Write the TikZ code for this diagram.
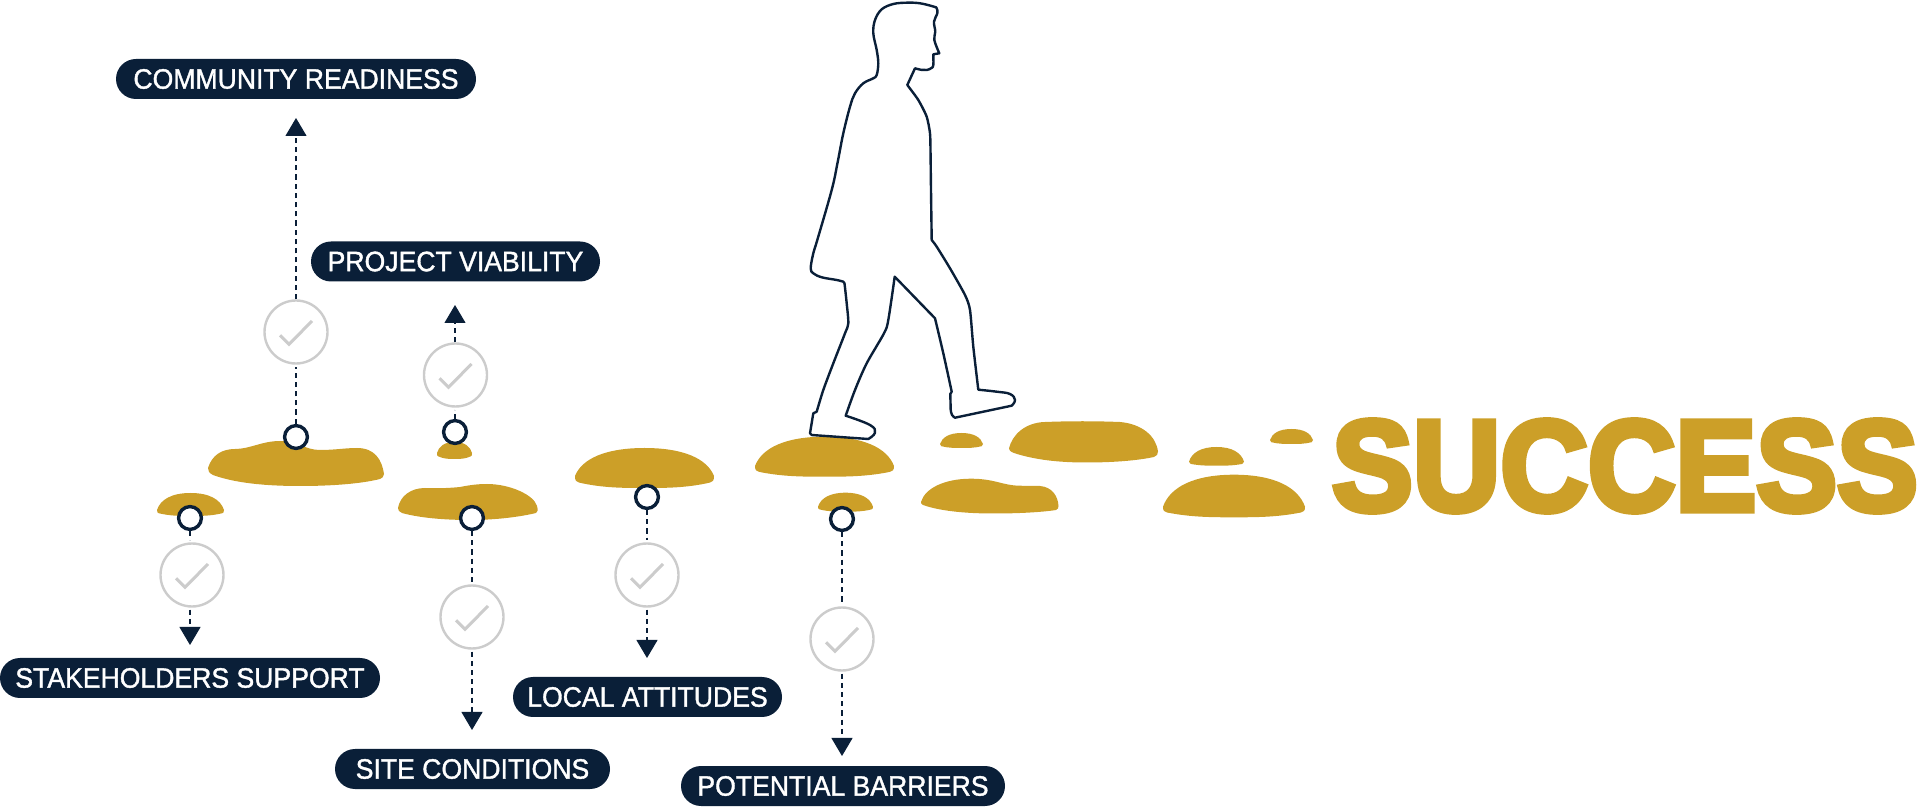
\documentclass[tikz,border=0pt]{standalone}
\usepackage{fontspec}
\usetikzlibrary{arrows.meta}
\setmainfont{Liberation Sans}[FakeStretch=0.95,FakeBold=1.3]
\newfontfamily\heavyf{Liberation Sans Bold}[FakeBold=5]
\definecolor{navy}{HTML}{0A1F38}
\definecolor{gold}{HTML}{CC9F28}
\definecolor{softgrey}{HTML}{CCCCCC}
\tikzset{
  pill/.style={fill=navy,text=white,rounded corners=10pt,inner sep=0pt,minimum height=20pt,font=\fontsize{14}{16}\selectfont},
  checkring/.style={circle,draw=softgrey,line width=1.2pt,fill=white,minimum size=31.5pt,inner sep=0pt},
  pin/.style={circle,draw=navy,line width=1.7pt,fill=white,minimum size=11.4pt,inner sep=0pt},
  tick/.style={draw=softgrey,line width=1.5pt,miter limit=4},
  link/.style={draw=navy,line width=0.55pt,dash pattern=on 2.6pt off 2pt},
  linkarrow/.style={link,-{Triangle[width=10.5pt,length=9pt]}},
  person/.style={draw=navy,line width=1.2pt,fill=white,line join=round},
}
\newcommand\stone[5]{%
  \pgfmathsetmacro\stW{#2-#1}\pgfmathsetmacro\stH{#4-#3}\pgfmathsetmacro\stD{#5-#4}\pgfmathsetmacro\stM{(#1+#2)/2}%
  \fill[gold] (#1,#4)
   .. controls ({#1+.05*\stW},{#4-.62*\stH}) and ({#1+.22*\stW},#3) .. (\stM,#3)
   .. controls ({#2-.22*\stW},#3) and ({#2-.05*\stW},{#4-.62*\stH}) .. (#2,#4)
   .. controls (#2,{#4+.4*\stD}) and ({#2-.01*\stW},{#4+.5*\stD}) .. ({#2-.03*\stW},{#4+.55*\stD})
   .. controls ({#2-.2*\stW},#5) and ({\stM+.15*\stW},#5) .. (\stM,#5)
   .. controls ({\stM-.15*\stW},#5) and ({#1+.2*\stW},#5) .. ({#1+.03*\stW},{#4+.55*\stD})
   .. controls ({#1+.01*\stW},{#4+.5*\stD}) and (#1,{#4+.4*\stD}) .. (#1,#4) -- cycle;}
\newcommand\tickin[1]{\draw[tick] ([shift={(-16,3.3)}]#1.center) -- ++(9,9) -- ++(23,-23.3);}
\begin{document}
\begin{tikzpicture}[x=0.5pt,y=-0.5pt]
\path[use as bounding box] (0,0) rectangle (1919,807);
% stones
\fill[gold] (208,468) .. controls (212,455) and (222,449) .. (235,449) .. controls (250,449) and (262,441) .. (280,441) .. controls (298,441) and (305,450) .. (320,450) .. controls (335,450) and (345,448) .. (357,448) .. controls (375,448) and (382,460) .. (384,474) .. controls (384,477) and (382,478) .. (380,479) .. controls (360,484) and (330,486) .. (300,486) .. controls (265,486) and (235,483) .. (213,475) .. controls (209,473) and (208,471) .. (208,468) -- cycle;
\stone{157}{224}{493}{510}{516}
\stone{437}{472}{442}{453}{459}
\fill[gold] (398,508) .. controls (400,496) and (411,488) .. (425,488) .. controls (440,488.5) and (450,488) .. (460,487) .. controls (470,485) and (478,484) .. (487,484) .. controls (510,484) and (534,495) .. (537,506) .. controls (538,510) and (538,512) .. (536,513) .. controls (515,518) and (490,520) .. (470,520) .. controls (445,520) and (420,518) .. (402,513) .. controls (399,512) and (398,510) .. (398,508) -- cycle;
\stone{575}{714}{448}{476}{488}
\stone{755}{894}{436.7}{466}{476.7}
\stone{818}{873}{492.7}{506.7}{511.7}
\fill[gold] (921,502) .. controls (925,488) and (945,478.7) .. (971,478.7) .. controls (995,478.7) and (1003,485.7) .. (1020,485.7) .. controls (1028,486) and (1033,485.7) .. (1040,486) .. controls (1052,487) and (1058,496) .. (1058.5,506) .. controls (1058.5,508) and (1058,509) .. (1056,510) .. controls (1040,512.5) and (1015,513.5) .. (994,513.5) .. controls (965,513.5) and (940,511) .. (923,505) .. controls (921,504) and (921,503) .. (921,502) -- cycle;
\stone{940}{983}{433}{444}{448}
\fill[gold] (1009,448.5) .. controls (1012,435) and (1025,422.5) .. (1045,422) .. controls (1070,421) and (1095,421) .. (1120,422) .. controls (1142,424) and (1156,436) .. (1158,451.5) .. controls (1158,454) and (1157,456) .. (1154,457) .. controls (1135,461) and (1110,462.5) .. (1086,462.5) .. controls (1060,462.5) and (1035,460) .. (1014,453) .. controls (1010,451.5) and (1009,450) .. (1009,448.5) -- cycle;
\stone{1189}{1244}{447}{461.7}{465.7}
\stone{1163}{1305}{474.7}{506.7}{517.3}
\stone{1270}{1313}{429}{440}{444}
% person
\draw[person]
 plot[smooth,tension=.6] coordinates {(907.3,85) (915,68.3)}
 -- plot[smooth,tension=.7] coordinates {(915,68.3) (921,69.8) (926.7,70) (931.5,68) (933.3,65) (933.3,54.3)}
 -- (939.3,53.3)
 -- plot[smooth,tension=.6] coordinates {(939.3,53.3) (934.3,40) (935.3,31.7) (934,21.7) (937.3,13.3) (936.7,8.3) (934,6.7) (920,3.3) (906.7,2.7) (893.3,4) (881.7,9.3) (875,20) (873.3,33.3) (876.7,50) (878.3,63.3) (876.7,75) (873.3,78.3) (863.3,83.3) (855,93.3) (850,106.7) (843.3,133.3) (837.5,163) (831.7,190) (817.3,240) (813.3,253.3) (810.7,268.3) (813.3,273.3) (821.7,277.3) (836.7,280) (843.3,281.7)}
 -- plot[smooth,tension=.5] coordinates {(844.5,283.3) (846.7,303.3) (848.3,323.3) (845,333.3) (833.3,363.3) (823.3,390) (816.7,411.7)}
 -- (813.3,413.3) -- (810,433.3) -- (811.7,435) -- (868.3,439)
 -- plot[smooth,tension=.7] coordinates {(868.3,439) (875,432.7) (870,425) (845.7,415.7)}
 -- plot[smooth,tension=.5] coordinates {(845.7,415.7) (855,390) (866.7,363.3) (884,333.3) (888.3,320) (894.7,276.7)}
 -- (935,318.3)
 -- plot[smooth,tension=.5] coordinates {(935,318.3) (943.3,353.3) (951.7,391.7)}
 -- (950.3,394) -- (950.7,410)
 -- plot[smooth,tension=.7] coordinates {(950.7,410) (952,415) (955,417.7)}
 -- (1011.7,405.7)
 -- plot[smooth,tension=.7] coordinates {(1011.7,405.7) (1015,400) (1010,394) (996.7,391.7) (978.3,389.7)}
 -- plot[smooth,tension=.4] coordinates {(978.3,389.7) (973.3,346.7) (970,310) (965,295) (950,268.3) (936.7,246.7) (931.7,240)}
 -- plot[smooth,tension=.4] coordinates {(931.7,240) (931,190) (930.5,150) (930,133.3) (926.7,116.7) (918.3,100) (907.3,85)} -- cycle;
% success
\node[text=gold,inner sep=0pt] (success) at (1625,466) {\resizebox{293pt}{45pt}{\heavyf SUCCESS}};
% labels
\node[pill,minimum width=180pt] (lcomm) at (296,79) {COMMUNITY READINESS};
\node[pill,minimum width=144.5pt] (lproj) at (455.5,261.5) {PROJECT VIABILITY};
\node[pill,minimum width=190pt] (lstake) at (190,678) {STAKEHOLDERS SUPPORT};
\node[pill,minimum width=137.5pt] (lsite) at (472.5,769) {SITE CONDITIONS};
\node[pill,minimum width=134.5pt] (llocal) at (647.5,697) {LOCAL ATTITUDES};
\node[pill,minimum width=162pt] (lbarr) at (843,786) {POTENTIAL BARRIERS};
% pins
\node[pin] (p1) at (296,437) {};
\node[pin] (p2) at (455,432) {};
\node[pin] (p3) at (190,518) {};
\node[pin] (p4) at (472,518) {};
\node[pin] (p5) at (647,497) {};
\node[pin] (p6) at (842,519) {};
% checks
\node[checkring] (c1) at (296,332) {};
\node[checkring] (c2) at (455.5,375) {};
\node[checkring] (c3) at (192,575) {};
\node[checkring] (c4) at (472,617) {};
\node[checkring] (c5) at (647,575) {};
\node[checkring] (c6) at (842,639) {};
\tickin{c1}\tickin{c2}\tickin{c3}\tickin{c4}\tickin{c5}\tickin{c6}
% arrow tips
\coordinate (t1) at (296,118);
\coordinate (t2) at (455,305);
\coordinate (t3) at (190,645);
\coordinate (t4) at (472,730);
\coordinate (t5) at (647,658);
\coordinate (t6) at (842,756);
% connectors
\foreach \n/\s/\e in {1/north/south,2/north/south} {
  \draw[link,shorten >=1pt] (p\n.\s) -- (p\n.\s |- c\n.\e);
  \draw[linkarrow] (p\n.\s |- c\n.\s) -- (t\n);
}
\foreach \n/\s/\e in {3/south/north,4/south/north,5/south/north,6/south/north} {
  \draw[link,shorten >=1pt] (p\n.\s) -- (p\n.\s |- c\n.\e);
  \draw[linkarrow,shorten <=1pt] (p\n.\s |- c\n.\s) -- (t\n);
}
\end{tikzpicture}
\end{document}
